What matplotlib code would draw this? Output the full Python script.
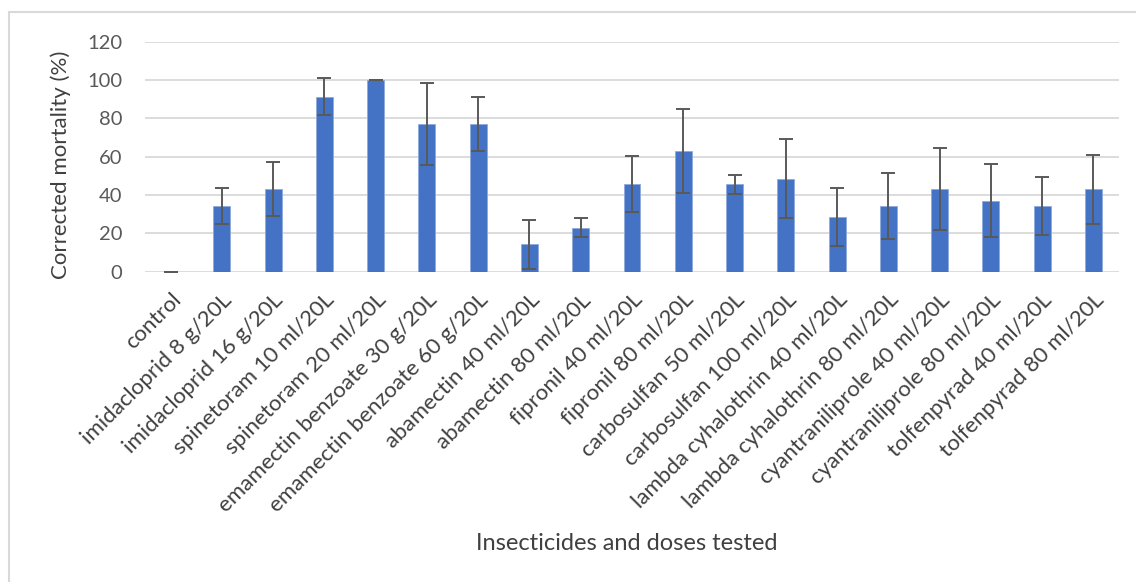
import numpy as np
import matplotlib.pyplot as plt
from matplotlib.patches import Rectangle

plt.rcParams["font.family"] = ["Lato", "DejaVu Sans"]

treatments = [
    "control",
    "imidacloprid 8 g/20L",
    "imidacloprid 16 g/20L",
    "spinetoram 10 ml/20L",
    "spinetoram 20 ml/20L",
    "emamectin benzoate 30 g/20L",
    "emamectin benzoate 60 g/20L",
    "abamectin 40 ml/20L",
    "abamectin 80 ml/20L",
    "fipronil 40 ml/20L",
    "fipronil 80 ml/20L",
    "carbosulfan 50 ml/20L",
    "carbosulfan 100 ml/20L",
    "lambda cyhalothrin 40 ml/20L",
    "lambda cyhalothrin 80 ml/20L",
    "cyantraniliprole 40 ml/20L",
    "cyantraniliprole 80 ml/20L",
    "tolfenpyrad 40 ml/20L",
    "tolfenpyrad 80 ml/20L",
]
mortality = [0, 34.3, 42.9, 91.4, 100, 77.1, 77.1, 14.3, 22.9, 45.7,
             62.9, 45.7, 48.6, 28.6, 34.3, 42.9, 37.1, 34.3, 42.9]
err = [0, 9.5, 14.1, 9.5, 0, 21.4, 14.0, 12.7, 5.0, 14.8,
       21.9, 5.0, 20.7, 15.0, 17.0, 21.4, 19.0, 14.9, 18.0]

W, H = 1136, 582
fig = plt.figure(figsize=(W / 100, H / 100), dpi=100)
ax = fig.add_axes([145 / W, 1 - 271.7 / H, (1119 - 145) / W, (271.7 - 41.7) / H])

# chart frame (runs off the right/bottom edges in the reference)
fig.patches.append(Rectangle((9 / W, -0.1), 1.2, 1 - 12 / H + 0.1,
                             transform=fig.transFigure, fill=False,
                             edgecolor="#d9d9d9", linewidth=1.5))

x = np.arange(len(treatments))
ax.bar(x, mortality, width=0.33, color="#4472C4", edgecolor="#8faadc",
       linewidth=0.6, zorder=3)
ax.errorbar(x, mortality, yerr=err, fmt="none", ecolor="#595959",
            elinewidth=1.4, capsize=5, capthick=1.4, zorder=4)

ax.set_xlim(-0.5, len(treatments) - 0.5)
ax.set_ylim(0, 120)
ax.set_yticks(range(0, 121, 20))
ax.yaxis.grid(True, color="#d9d9d9", linewidth=1.3, zorder=0)
ax.set_axisbelow(True)
for s in ax.spines.values():
    s.set_visible(False)
ax.tick_params(axis="y", length=0, colors="#595959", labelsize=14.5, pad=16.5)

ax.set_xticks(x)
ax.set_xticklabels(treatments, rotation=45, ha="right",
                   rotation_mode="anchor", fontsize=16, color="#404040")
ax.tick_params(axis="x", length=0, pad=13)

ax.set_ylabel("Corrected mortality (%)", fontsize=16, color="#404040")
ax.yaxis.set_label_coords(-0.076, 0.464)
fig.text(627 / W, 1 - 543 / H, "Insecticides and doses tested",
         fontsize=17, color="#404040", ha="center", va="center")

fig.savefig("out.png", dpi=100)
